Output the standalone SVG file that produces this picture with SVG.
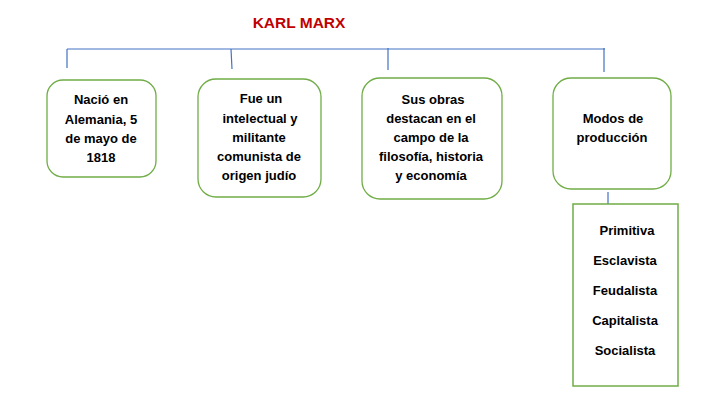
<svg xmlns="http://www.w3.org/2000/svg" width="719" height="411" viewBox="0 0 719 411">
<style>
.box{fill:#fff;stroke:#70ad47;stroke-width:1.3}
.ln{stroke:#4472c4;stroke-width:1.2;fill:none}
text{font-family:"Liberation Sans",Arial,sans-serif;font-weight:bold;font-size:13px;fill:#000;text-anchor:middle}
.title{font-size:15.5px;fill:#c00000}
</style>
<rect width="719" height="411" fill="#fff"/>
<text class="title" x="299" y="28">KARL MARX</text>
<g id="connectors">
<path class="ln" d="M67,49 H605 M67,49 V68 M231,49 L232,69 M388,48 V70 M604,48 V72 M608,192 V205"/>
</g>
<g id="n1">
<rect class="box" x="47" y="80" width="109" height="97" rx="16"/>
<text x="101" y="104">Nació en</text>
<text x="101" y="124">Alemania, 5</text>
<text x="101" y="143">de mayo de</text>
<text x="101" y="162">1818</text>
</g>
<g id="n2">
<rect class="box" x="198" y="79" width="123" height="118" rx="18"/>
<text x="261" y="103">Fue un</text>
<text x="260" y="123">intelectual y</text>
<text x="259" y="142">militante</text>
<text x="259" y="161">comunista de</text>
<text x="259" y="180">origen judío</text>
</g>
<g id="n3">
<rect class="box" x="362" y="78" width="140" height="121" rx="18"/>
<text x="433" y="104">Sus obras</text>
<text x="431" y="123">destacan en el</text>
<text x="431" y="142">campo de la</text>
<text x="431" y="161">filosofía, historia</text>
<text x="431" y="180">y economía</text>
</g>
<g id="n4">
<rect class="box" x="553" y="78" width="118" height="111" rx="18"/>
<text x="613" y="123">Modos de</text>
<text x="612" y="142">producción</text>
</g>
<g id="n5">
<rect x="573" y="204" width="105" height="182" fill="#fff" stroke="#70ad47" stroke-width="1.5"/>
<text x="627" y="235">Primitiva</text>
<text x="625" y="265">Esclavista</text>
<text x="625" y="295">Feudalista</text>
<text x="625" y="325">Capitalista</text>
<text x="625" y="355">Socialista</text>
</g>
</svg>
